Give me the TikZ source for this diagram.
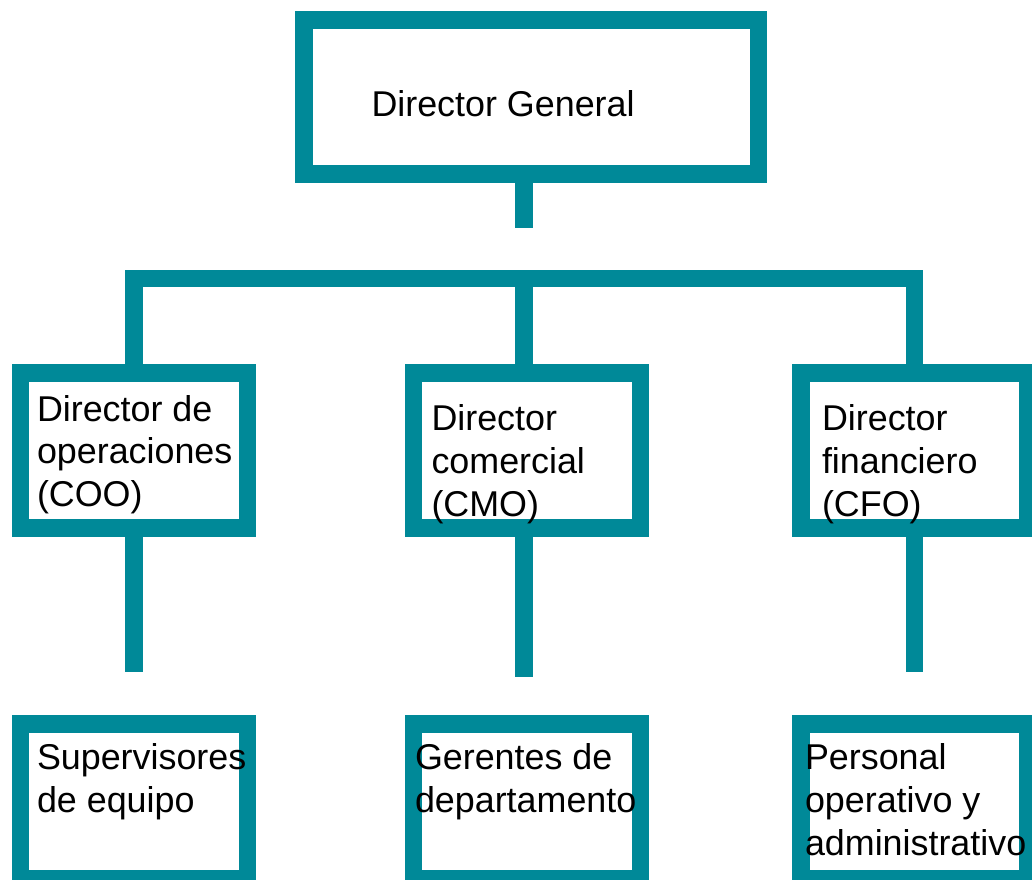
\documentclass[tikz,border=0pt]{standalone}
\usepackage{fontspec}
\setmainfont{Liberation Sans}
\definecolor{orgteal}{RGB}{0,137,152}

\tikzset{every picture/.style={line width=0.75pt}}

\begin{document}
\begin{tikzpicture}[x=0.75pt,y=0.75pt,yscale=-1,xscale=1,
	cargo/.style={draw=orgteal, line width=13.1pt, rectangle, inner sep=0pt, minimum width=170.3pt, minimum height=116pt},
	linea/.style={draw=orgteal, line width=13.1pt},
	rotulo/.style={anchor=base west, inner sep=0pt, align=left, font=\fontsize{26.9pt}{32.1pt}\selectfont}]
		%set diagram size to 1032 x 879
		\useasboundingbox (0,0) rectangle (1032,879);

		% boxes
		\node [cargo, minimum width=340.9pt, minimum height=115.5pt] (general) at (531.3,97) {};
		\node [cargo] (coo) at (133.9,450.5) {};
		\node [cargo] (cmo) at (527,450.5) {};
		\node [cargo] (cfo) at (914.3,450.5) {};
		\node [cargo] (superv) at (133.9,801.5) {};
		\node [cargo] (gerentes) at (527,801.5) {};
		\node [cargo] (personal) at (914.3,801.5) {};

		% free ends of the stubs
		\coordinate (hub) at (524,278.5);
		\coordinate (stubgen) at (524,228);
		\coordinate (stubcoo) at (133.9,671.7);
		\coordinate (stubcmo) at (524,676.7);
		\coordinate (stubcfo) at (914.3,671.7);

		\draw [linea] (general.south -| hub) -- (stubgen);
		\draw [linea] (coo.north) -- (coo.north |- hub) -- (cfo.north |- hub) -- (cfo.north);
		\draw [linea] (hub) -- (hub |- cmo.north);
		\draw [linea] (coo.south) -- (stubcoo);
		\draw [linea] (cmo.south -| hub) -- (stubcmo);
		\draw [linea] (cfo.south) -- (stubcfo);

		% texts (anchored on the baseline of the last line)
		\node [rotulo] (tgeneral) at (371,116.7) {Director General};
		\node [rotulo] (tcoo) at (36.5,506.7) {Director de\\operaciones\\(COO)};
		\node [rotulo] (tcmo) at (431,516.4) {Director\\comercial\\(CMO)};
		\node [rotulo] (tcfo) at (821.5,516.4) {Director\\financiero\\(CFO)};
		\node [rotulo] (tsuperv) at (36.5,812.5) {Supervisores\\de equipo};
		\node [rotulo] (tgerentes) at (414.5,812.5) {Gerentes de\\departamento};
		\node [rotulo] (tpersonal) at (804.5,855) {Personal\\operativo y\\administrativo};

		\end{tikzpicture}
\end{document}
